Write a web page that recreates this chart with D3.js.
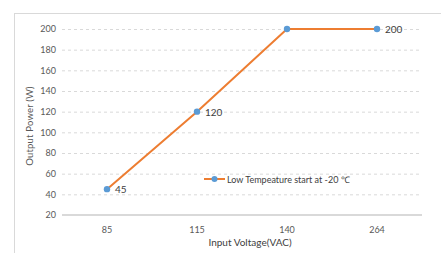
<!DOCTYPE html>
<html><head><meta charset="utf-8">
<script src="https://cdn.jsdelivr.net/npm/d3@7"></script>
<style>body{margin:0;background:#fff;}svg{display:block;font-family:Lato,"Open Sans",sans-serif;}</style>
</head><body>
<svg id="c" width="441" height="253"></svg>
<script>
const categories = ["85","115","140","264"];
const values = [45,120,200,200];
const showLabel = [true,true,false,true];
const yTicks = [20,40,60,80,100,120,140,160,180,200];
const seriesName = "Low Tempeature start at -20 \u2103";

const svg = d3.select("#c");
const m = {l:62, r:19, t:29, b:38};
const W = 441, H = 253;
svg.append("rect").attr("x",14.5).attr("y",13.5).attr("width",440).attr("height",250)
  .attr("fill","#fff").attr("stroke","#d9d9d9");

const x = d3.scaleBand().domain(categories).range([m.l, W-m.r]);
const y = d3.scaleLinear().domain([20,200]).range([H-m.b, m.t]);

const g = svg.append("g");
g.selectAll("line.grid").data(yTicks.filter(d=>d>20)).enter().append("line")
  .attr("x1",m.l).attr("x2",W-m.r).attr("y1",d=>y(d)+0.5).attr("y2",d=>y(d)+0.5)
  .attr("stroke","#d9d9d9").attr("stroke-dasharray","3,3");
g.append("line").attr("x1",m.l).attr("x2",W-m.r).attr("y1",y(20)).attr("y2",y(20))
  .attr("stroke","#d9d9d9").attr("stroke-width",2);

const ya = svg.append("g").attr("transform",`translate(${m.l-6},0)`)
  .call(d3.axisLeft(y).tickValues(yTicks).tickSize(0).tickPadding(0));
ya.select(".domain").remove();
ya.selectAll("text").attr("font-size",9).attr("fill","#595959").attr("font-family","Lato");

const xa = svg.append("g").attr("transform",`translate(0,${y(20)+12})`)
  .call(d3.axisBottom(x).tickSize(0).tickPadding(0));
xa.select(".domain").remove();
xa.selectAll("text").attr("font-size",9).attr("fill","#595959").attr("font-family","Lato");

svg.append("text").attr("x",250).attr("y",246).attr("text-anchor","middle")
  .attr("font-size",10).attr("fill","#404040").text("Input Voltage(VAC)");
svg.append("text").attr("transform","translate(33,126) rotate(-90)").attr("text-anchor","middle")
  .attr("font-size",9.5).attr("letter-spacing",0.2).attr("fill","#595959").text("Output Power (W)");

const pts = values.map((v,i)=>({cat:categories[i], v:v, show:showLabel[i]}));
const cx = d => x(d.cat)+x.bandwidth()/2;
const line = d3.line().x(cx).y(d=>y(d.v));
svg.append("path").datum(pts).attr("d",line).attr("fill","none")
  .attr("stroke","#ED7D31").attr("stroke-width",2);
svg.selectAll("circle.pt").data(pts).enter().append("circle")
  .attr("cx",cx).attr("cy",d=>y(d.v)).attr("r",3.2).attr("fill","#5B9BD5");
svg.selectAll("text.lbl").data(pts.filter(d=>d.show)).enter().append("text")
  .attr("x",d=>cx(d)+8).attr("y",d=>y(d.v)+4)
  .attr("font-size",10).attr("fill","#404040").text(d=>d.v);

// legend
const ly = 179;
svg.append("line").attr("x1",204).attr("x2",225).attr("y1",ly).attr("y2",ly)
  .attr("stroke","#ED7D31").attr("stroke-width",2);
svg.append("circle").attr("cx",214.5).attr("cy",ly).attr("r",3).attr("fill","#5B9BD5");
svg.append("text").attr("x",227).attr("y",ly+4).attr("font-size",9).attr("fill","#404040").text(seriesName);
</script>
</body></html>
